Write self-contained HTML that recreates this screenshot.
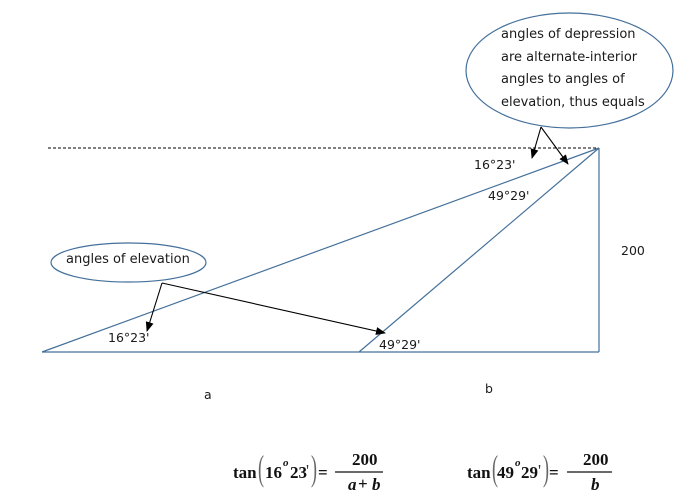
<!DOCTYPE html>
<html><head><meta charset="utf-8"><style>
html,body{margin:0;padding:0;background:#fff;}
svg{display:block;}
.t{font-family:"DejaVu Sans","Liberation Sans",sans-serif;font-size:13px;fill:#1a1a1a;}
.l{font-family:"DejaVu Sans","Liberation Sans",sans-serif;font-size:12.5px;fill:#1a1a1a;}
.m{font-family:"Liberation Serif",serif;font-size:17px;font-weight:bold;fill:#111;}
.mi{font-family:"Liberation Serif",serif;font-size:17px;font-weight:bold;font-style:italic;fill:#111;}
.p{font-family:"Liberation Serif",serif;font-size:18px;fill:#666;}
.pr{font-family:"Liberation Serif",serif;font-size:17px;fill:#333;}
</style></head><body>
<svg width="683" height="502" viewBox="0 0 683 502" xmlns="http://www.w3.org/2000/svg">
<defs>
<marker id="ah" markerWidth="10" markerHeight="8" refX="9" refY="4" orient="auto" markerUnits="userSpaceOnUse">
<path d="M0,0 L10,4 L0,8 Z" fill="#000"/>
</marker>
</defs>
<rect width="683" height="502" fill="#fff"/>
<line x1="48" y1="148" x2="599" y2="148" stroke="#000" stroke-width="1" stroke-dasharray="3,2"/>
<g stroke="#44709a" stroke-width="1.2" fill="none">
<line x1="42" y1="352" x2="599" y2="148"/>
<line x1="359" y1="352" x2="599" y2="148"/>
<line x1="42" y1="352" x2="599" y2="352"/>
<line x1="599" y1="148" x2="599" y2="352"/>
<ellipse cx="569.5" cy="70.5" rx="103.5" ry="57.5"/>
<ellipse cx="128.5" cy="262.5" rx="77.5" ry="19.5"/>
</g>
<g stroke="#000" stroke-width="1.1" fill="none" marker-end="url(#ah)">
<line x1="541" y1="127" x2="532" y2="158"/>
<line x1="541" y1="127" x2="568" y2="164"/>
<line x1="162" y1="283" x2="147" y2="331"/>
<line x1="162" y1="283" x2="385" y2="333"/>
</g>
<text class="t" x="501" y="38">angles of depression</text>
<text class="t" x="501" y="61">are alternate-interior</text>
<text class="t" x="501" y="83">angles to angles of</text>
<text class="t" x="501" y="106">elevation, thus equals</text>
<text class="t" x="66" y="263">angles of elevation</text>
<text class="l" x="474" y="169">16°23'</text>
<text class="l" x="488" y="200">49°29'</text>
<text class="l" x="108" y="342">16°23'</text>
<text class="l" x="379" y="349">49°29'</text>
<text class="l" x="621" y="255">200</text>
<text class="l" x="204" y="399">a</text>
<text class="l" x="485" y="393">b</text>
<!-- formula 1 -->
<text class="m" x="233" y="478">tan</text>
<text class="p" transform="translate(258,480) scale(1,2)" x="0" y="0">(</text>
<text class="m" x="265" y="478">16</text>
<text class="m" x="283" y="466" style="font-size:11px;font-style:italic;">o</text>
<text class="m" x="290" y="478">23</text>
<text class="pr" x="306" y="476">'</text>
<text class="p" transform="translate(311,480) scale(1,2)" x="0" y="0">)</text>
<text class="m" x="318" y="478">=</text>
<line x1="335" y1="472" x2="383" y2="472" stroke="#111" stroke-width="1.3"/>
<text class="m" x="352" y="465">200</text>
<text class="mi" x="348" y="490">a</text>
<text class="m" x="358" y="489">+</text>
<text class="mi" x="372" y="490">b</text>
<!-- formula 2 -->
<text class="m" x="467" y="478">tan</text>
<text class="p" transform="translate(492,480) scale(1,2)" x="0" y="0">(</text>
<text class="m" x="497" y="478">49</text>
<text class="m" x="515" y="466" style="font-size:11px;font-style:italic;">o</text>
<text class="m" x="521" y="478">29</text>
<text class="pr" x="538" y="476">'</text>
<text class="p" transform="translate(543,480) scale(1,2)" x="0" y="0">)</text>
<text class="m" x="549" y="478">=</text>
<line x1="567" y1="472" x2="612" y2="472" stroke="#111" stroke-width="1.3"/>
<text class="m" x="583" y="465">200</text>
<text class="mi" x="591" y="490">b</text>
</svg>
</body></html>
